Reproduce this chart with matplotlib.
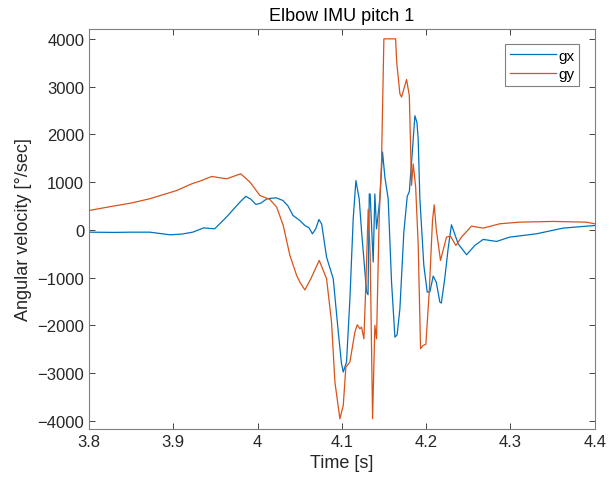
import matplotlib
matplotlib.use("Agg")
import matplotlib.pyplot as plt

# gx trace (time [s], angular velocity [deg/s])
t_gx = [3.8, 3.83, 3.85, 3.872, 3.896, 3.91, 3.923, 3.936, 3.949, 3.963, 3.979, 3.986,
        3.992, 3.998, 4.004, 4.011, 4.022, 4.030, 4.036, 4.042, 4.050, 4.056, 4.061,
        4.065, 4.069, 4.0727, 4.076, 4.0818, 4.0897, 4.0957, 4.0995, 4.1016, 4.1055,
        4.1095, 4.1134, 4.1166, 4.1205, 4.1234, 4.1293, 4.131, 4.1325, 4.1335, 4.1371,
        4.1391, 4.1411, 4.145, 4.1482, 4.151, 4.1549, 4.1589, 4.1629, 4.1655, 4.1688,
        4.1735, 4.1775, 4.18, 4.183, 4.1866, 4.189, 4.1905, 4.1925, 4.1972, 4.2012,
        4.2044, 4.2083, 4.212, 4.2162, 4.218, 4.222, 4.226, 4.23, 4.2379, 4.2479,
        4.2577, 4.2676, 4.2835, 4.2992, 4.3309, 4.3624, 4.4]
gx = [-50, -55, -50, -50, -105, -90, -50, 40, 20, 265, 580, 700,
      640, 530, 560, 650, 670, 614, 500, 300, 195, 90, 40,
      -84, 20, 216, 120, -572, -1026, -2143, -2800, -2980, -2770,
      -1445, 230, 1030, 650, -50, -1305, -1360, 750, 750, -677,
      750, 20, 650, 1630, 1100, 650, -1095, -2250, -2200, -1655,
      -50, 700, 800, 1500, 2390, 2250, 1905, 650, -747, -1305,
      -1300, -970, -1100, -1515, -1535, -1026, -400, 105, -293, -523,
      -328, -202, -244, -153, -84, 35, 90]

# gy trace
t_gy = [3.8, 3.83, 3.85, 3.872, 3.904, 3.9218, 3.9316, 3.9455, 3.9633, 3.9799, 3.9909,
        4.0028, 4.0146, 4.0226, 4.0304, 4.0383, 4.0463, 4.0502, 4.0561, 4.063, 4.0731,
        4.0818, 4.0877, 4.0917, 4.0976, 4.1016, 4.1047, 4.1095, 4.1154, 4.1182, 4.1213,
        4.1233, 4.1261, 4.1285, 4.1312, 4.1335, 4.1364, 4.1391, 4.1411, 4.1443, 4.147,
        4.1498, 4.1637, 4.165, 4.1688, 4.1708, 4.1767, 4.18, 4.1826, 4.1846, 4.1875,
        4.1905, 4.1933, 4.1964, 4.1996, 4.2036, 4.2075, 4.2095, 4.212, 4.217, 4.2241,
        4.2288, 4.2352, 4.2419, 4.2538, 4.2676, 4.2874, 4.311, 4.3506, 4.39, 4.4]
gy = [405, 500, 560, 650, 823, 963, 1020, 1117, 1068, 1173, 999,
      718, 634, 475, 90, -538, -957, -1100, -1260, -1030, -642,
      -1026, -1933, -3190, -3958, -3680, -2876, -2770, -2143, -1990, -2073,
      -2040, -2283, -1095, 430, -490, -3958, -2004, -2283, 300, 1420,
      4000, 4000, 3510, 2850, 2780, 3150, 2810, 930, 1380, 900,
      -300, -2490, -2423, -2400, -1305, 200, 523, 0, -642, -153,
      -132, -328, -153, 77, 35, 126, 160, 175, 160, 126]

plt.rcParams['font.family'] = ['Liberation Sans', 'DejaVu Sans']

fig = plt.figure(figsize=(6.1, 4.89), dpi=100)
ax = fig.add_axes([0.146, 0.121, 0.829, 0.818])

ax.plot(t_gx, gx, color='#0072BD', lw=0.9, label='gx')
ax.plot(t_gy, gy, color='#D95319', lw=0.9, label='gy')

ax.set_xlim(3.8, 4.4)
ax.set_ylim(-4170, 4210)
ax.set_xticks([3.8, 3.9, 4.0, 4.1, 4.2, 4.3, 4.4])
ax.set_xticklabels(['3.8', '3.9', '4', '4.1', '4.2', '4.3', '4.4'])
ax.set_yticks(range(-4000, 4001, 1000))

ax.tick_params(direction='in', top=True, right=True, labelsize=12,
               colors='#262626', length=4, width=0.6)
for s in ax.spines.values():
    s.set_color('#808080')
    s.set_linewidth(0.8)

ax.set_xlabel('Time [s]', fontsize=13, color='#262626')
ax.set_ylabel('Angular velocity [°/sec]', fontsize=13, color='#262626')
ax.set_title('Elbow IMU pitch 1', fontsize=13, color='#000000')

leg = ax.legend(loc='upper right', fontsize=11, handlelength=3.0,
                fancybox=False, framealpha=1, edgecolor='#808080',
                borderaxespad=1.0, handletextpad=0.2, borderpad=0.3,
                labelspacing=0.3)
leg.get_frame().set_linewidth(0.8)

fig.savefig('out.png', dpi=100)
